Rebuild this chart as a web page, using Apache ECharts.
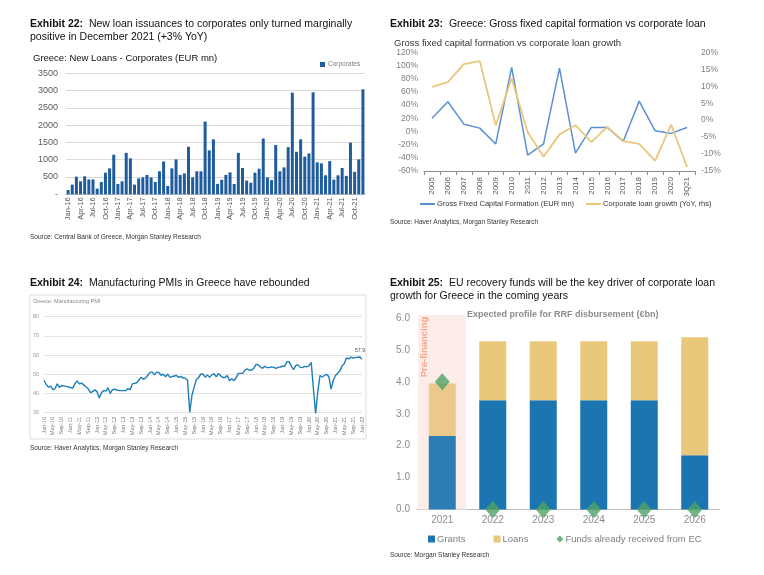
<!DOCTYPE html>
<html><head><meta charset="utf-8">
<script src="https://cdn.jsdelivr.net/npm/echarts@6/dist/echarts.min.js"></script>
<style>html,body{margin:0;padding:0;background:#fff}#c{width:764px;height:575px}</style>
</head><body><div id="c"></div>
<script>
const MON = ['Jan','Feb','Mar','Apr','May','Jun','Jul','Aug','Sep','Oct','Nov','Dec'];
function monthRange(y0, m0, y1, m1) {
  const out = [];
  for (let y = y0, m = m0; y < y1 || (y === y1 && m <= m1); ) {
    out.push(MON[m] + '-' + String(y).slice(2));
    m++; if (m > 11) { m = 0; y++; }
  }
  return out;
}
// Exhibit 22
const loanMonths = monthRange(2016, 0, 2021, 11);
const corporateLoans = [
  125, 280, 510, 375, 520, 430, 430, 165, 355, 625, 750, 1145,
  300, 375, 1200, 1040, 280, 460, 490, 560, 490, 355, 665, 950,
  240, 750, 1010, 560, 605, 1375, 490, 665, 665, 2105, 1270, 1590,
  300, 420, 560, 635, 300, 1200, 760, 395, 335, 625, 740, 1615,
  490, 410, 1425, 665, 780, 1365, 2940, 1230, 1590, 1090, 1180, 2950,
  925, 895, 550, 960, 425, 550, 760, 535, 1495, 650, 1010, 3035
];
// Exhibit 23
const gfcfYears = ['2005','2006','2007','2008','2009','2010','2011','2012','2013','2014','2015','2016','2017','2018','2019','2020','3Q21'];
const gfcfGrowth = [20, 45, 11, 5, -19, 97, -36, -19, 96, -33, 6, 6, -15, 46, 1, -3, 6];
const corpLoanGrowth = [9.8, 11.2, 16.5, 17.4, -1.5, 12.3, -3.5, -10.8, -4.2, -1.5, -6.5, -2.0, -6.2, -7.0, -12.0, -1.3, -13.8];
// Exhibit 24
const pmiMonths = monthRange(2010, 0, 2022, 0);
const pmiValues = [
  46.9, 44.7, 43.3, 43.8, 42.0, 42.6, 45.0, 43.2, 44.2, 44.0, 43.7, 43.5,
  43.0, 42.8, 45.0, 46.6, 45.0, 45.4, 44.5, 43.5, 42.5, 40.5, 41.0, 41.9,
  41.0, 37.7, 40.4, 41.5, 41.2, 43.0, 40.0, 42.0, 42.2, 41.8, 41.6, 41.5,
  41.5, 41.5, 42.6, 42.0, 45.0, 45.3, 45.6, 47.0, 48.5, 47.5, 48.0, 49.5,
  51.0, 51.3, 49.7, 51.1, 51.0, 49.4, 50.1, 48.7, 50.1, 48.4, 48.8, 49.1,
  49.4, 48.4, 48.9, 48.0, 48.0, 46.9, 30.2, 39.1, 43.3, 47.3, 48.1, 50.2,
  50.0, 48.5, 49.7, 48.4, 49.7, 50.4, 48.7, 50.4, 49.2, 48.3, 48.3, 49.3,
  46.6, 47.7, 46.7, 48.2, 50.5, 50.5, 50.5, 52.2, 52.8, 52.1, 52.2, 53.1,
  55.2, 55.0, 53.8, 53.1, 54.2, 53.5, 53.5, 53.9, 53.6, 53.1, 53.6, 53.8,
  54.2, 54.2, 56.6, 56.6, 54.2, 52.4, 54.6, 54.9, 53.6, 53.5, 54.1, 53.9,
  54.4, 56.2, 42.5, 29.5, 41.1, 49.4, 48.6, 49.4, 50.0, 48.7, 42.3, 46.9,
  49.4, 50.6, 51.8, 54.4, 55.6, 58.6, 58.0, 59.0, 58.4, 58.8, 58.8, 59.0,
  57.9
];
// Exhibit 25
const rrfYears = ['2021','2022','2023','2024','2025','2026'];
const rrfGrants = [2.3, 3.42, 3.42, 3.42, 3.42, 1.7];
const rrfLoans = [1.65, 1.85, 1.85, 1.85, 1.85, 3.7];
const fundsReceived = [4.0, 0, 0, 0, 0, 0];
const preFinancing = [6.1, null, null, null, null, null];

const FONT = 'Liberation Sans, Arial, sans-serif';
const chart = echarts.init(document.getElementById('c'));
function ttl(left, top, text, size) {
  return {
    left: left, top: top, padding: 0, text: text,
    textStyle: { fontSize: size, fontWeight: 'normal', color: '#111', lineHeight: 13, fontFamily: FONT,
      rich: { b: { fontWeight: 'bold', fontSize: size, color: '#111', lineHeight: 13, fontFamily: FONT } } }
  };
}
function plain(left, top, text, size, color, weight) {
  return { left: left, top: top, padding: 0, text: text,
    textStyle: { fontSize: size, fontWeight: weight || 'normal', color: color, fontFamily: FONT } };
}
// 2021 bars sit under the translucent pre-financing band: slightly muted tones
const grantsData = rrfGrants.map((v, i) => i === 0 ? { value: v, itemStyle: { color: '#2B7DB4' } } : v);
const loansData = rrfLoans.map((v, i) => i === 0 ? { value: v, itemStyle: { color: '#EAC98A' } } : v);
const option = {
  animation: false,
  backgroundColor: '#fff',
  textStyle: { fontFamily: FONT },
  title: [
    ttl(30, 18, '{b|Exhibit 22:}  New loan issuances to corporates only turned marginally\npositive in December 2021 (+3% YoY)', 10.5),
    plain(33, 53, 'Greece: New Loans - Corporates (EUR mn)', 9.5, '#111'),
    plain(30, 234, 'Source: Central Bank of Greece, Morgan Stanley Research', 6.5, '#333'),
    ttl(390, 18, '{b|Exhibit 23:}  Greece: Gross fixed capital formation vs corporate loan', 10.5),
    plain(394, 38, 'Gross fixed capital formation vs corporate loan growth', 9.5, '#333'),
    plain(390, 219, 'Source: Haver Analytics, Morgan Stanley Research', 6.5, '#333'),
    ttl(30, 277, '{b|Exhibit 24:}  Manufacturing PMIs in Greece have rebounded', 10.5),
    plain(33, 298, 'Greece: Manufacturing PMI', 5.5, '#888'),
    plain(30, 445, 'Source: Haver Analytics, Morgan Stanley Research', 6.5, '#333'),
    ttl(390, 277, '{b|Exhibit 25:}  EU recovery funds will be the key driver of corporate loan\ngrowth for Greece in the coming years', 10.5),
    plain(467, 310, 'Expected profile for RRF disbursement (\u20acbn)', 9, '#8c8c8c', 'bold'),
    plain(390, 552, 'Source: Morgan Stanley Research', 6.5, '#333')
  ],
  graphic: [
    { type: 'rect', shape: { x: 30, y: 295, width: 336, height: 144 }, style: { fill: 'none', stroke: '#dcdcdc', lineWidth: 1 }, z: 0 },
    { type: 'text', x: 424, y: 347, rotation: Math.PI / 2, z: 10,
      style: { text: 'Pre-financing', align: 'center', verticalAlign: 'middle', fill: '#F2A690', font: 'bold 9.5px ' + FONT } }
  ],
  legend: [
    { data: ['Corporates'], left: 320, top: 61, itemWidth: 5, itemHeight: 5, icon: 'rect', padding: 0, itemGap: 3,
      textStyle: { fontSize: 6.5, color: '#7f7f7f', padding: [0, 0, 0, -2] } },
    { data: ['Gross Fixed Capital Formation (EUR mn)', 'Corporate loan growth (YoY, rhs)'], left: 420, top: 200,
      itemWidth: 15, itemHeight: 2, icon: 'rect', itemGap: 12, padding: 0,
      textStyle: { fontSize: 7.5, color: '#333', padding: [0, 0, 0, -3] } },
    { data: ['Grants', 'Loans', { name: 'Funds already received from EC', icon: 'diamond' }], left: 428, top: 534,
      itemWidth: 7, itemHeight: 7, icon: 'rect', itemGap: 28, padding: 0,
      textStyle: { fontSize: 9.5, color: '#7f7f7f', padding: [0, 0, 0, -3] } }
  ],
  grid: [
    { left: 66, right: 399, top: 73.3, bottom: 380.7 },
    { left: 424, right: 69, top: 52.3, bottom: 404 },
    { left: 44, right: 402, top: 316.7, bottom: 162.3 },
    { left: 417, right: 44, top: 318, bottom: 65.5 }
  ],
  xAxis: [
    { type: 'category', gridIndex: 0, data: loanMonths,
      axisLine: { lineStyle: { color: '#bfbfbf' } }, axisTick: { show: false },
      axisLabel: { interval: 2, rotate: 90, fontSize: 7.5, color: '#595959', margin: 3 } },
    { type: 'category', gridIndex: 1, data: gfcfYears,
      axisLine: { onZero: false, lineStyle: { color: '#8c8c8c' } }, axisTick: { show: true, length: 4, lineStyle: { color: '#8c8c8c' } },
      axisLabel: { interval: 0, rotate: 90, fontSize: 8, color: '#595959', margin: 6 } },
    { type: 'category', gridIndex: 2, data: pmiMonths, boundaryGap: false,
      axisLine: { show: false }, axisTick: { show: false },
      axisLabel: { interval: 3, rotate: 90, fontSize: 5.5, color: '#777', margin: 4 } },
    { type: 'category', gridIndex: 3, data: rrfYears,
      axisLine: { lineStyle: { color: '#bfbfbf' } }, axisTick: { show: false },
      axisLabel: { fontSize: 10, color: '#8c8c8c', margin: 6 } },
    { type: 'category', gridIndex: 3, data: rrfYears, show: false }
  ],
  yAxis: [
    { type: 'value', gridIndex: 0, min: 0, max: 3500, interval: 500,
      axisLine: { show: false }, axisTick: { show: false },
      splitLine: { lineStyle: { color: '#d9d9d9' } },
      axisLabel: { fontSize: 9, color: '#595959', margin: 8, formatter: v => v === 0 ? '-' : String(v) } },
    { type: 'value', gridIndex: 1, min: -60, max: 120, interval: 20,
      axisLine: { show: false }, axisTick: { show: false }, splitLine: { show: false },
      axisLabel: { fontSize: 8.5, color: '#7f7f7f', margin: 6, formatter: '{value}%' } },
    { type: 'value', gridIndex: 1, position: 'right', min: -15, max: 20, interval: 5,
      axisLine: { show: false }, axisTick: { show: false }, splitLine: { show: false },
      axisLabel: { fontSize: 8.5, color: '#7f7f7f', margin: 6, formatter: '{value}%' } },
    { type: 'value', gridIndex: 2, min: 30, max: 80, interval: 10,
      axisLine: { show: false }, axisTick: { show: false },
      splitLine: { lineStyle: { color: '#e3e3e3' } },
      axisLabel: { fontSize: 5.5, color: '#999', margin: 5 } },
    { type: 'value', gridIndex: 3, min: 0, max: 6, interval: 1,
      axisLine: { show: false }, axisTick: { show: false }, splitLine: { show: false },
      axisLabel: { fontSize: 10, color: '#8c8c8c', margin: 7, formatter: v => v.toFixed(1) } }
  ],
  series: [
    { name: 'Corporates', type: 'bar', xAxisIndex: 0, yAxisIndex: 0, data: corporateLoans,
      barWidth: '72%', itemStyle: { color: '#1F5C9E' } },
    { name: 'Gross Fixed Capital Formation (EUR mn)', type: 'line', xAxisIndex: 1, yAxisIndex: 1, data: gfcfGrowth,
      symbol: 'none', lineStyle: { color: '#5B8FD3', width: 1.5 }, itemStyle: { color: '#5B8FD3' } },
    { name: 'Corporate loan growth (YoY, rhs)', type: 'line', xAxisIndex: 1, yAxisIndex: 2, data: corpLoanGrowth,
      symbol: 'none', lineStyle: { color: '#EBC77C', width: 1.8 }, itemStyle: { color: '#EBC77C' } },
    { name: 'PMI', type: 'line', xAxisIndex: 2, yAxisIndex: 3, data: pmiValues,
      symbol: 'none', lineStyle: { color: '#1E7EB8', width: 1.4 }, itemStyle: { color: '#1E7EB8' },
      markPoint: { symbol: 'circle', symbolSize: 0, silent: true,
        label: { show: true, fontSize: 5.5, color: '#555', formatter: p => p.value.toFixed(1) },
        data: [
          { type: 'min', label: { position: 'right', offset: [2, -5] } },
          { coord: [pmiValues.length - 1, pmiValues[pmiValues.length - 1]], value: pmiValues[pmiValues.length - 1],
            label: { position: 'top', offset: [-2, -1] } }
        ] } },
    { name: 'prefin', type: 'bar', xAxisIndex: 4, yAxisIndex: 4, data: preFinancing, barWidth: '95%',
      clip: false, silent: true, z: 1, itemStyle: { color: '#FCEDE9' } },
    { name: 'Grants', type: 'bar', stack: 'rrf', xAxisIndex: 3, yAxisIndex: 4, data: grantsData,
      barWidth: 27, z: 3, itemStyle: { color: '#1B75B1' } },
    { name: 'Loans', type: 'bar', stack: 'rrf', xAxisIndex: 3, yAxisIndex: 4, data: loansData,
      barWidth: 27, z: 3, itemStyle: { color: '#E9C87B' } },
    { name: 'Funds already received from EC', type: 'scatter', xAxisIndex: 3, yAxisIndex: 4, data: fundsReceived,
      symbol: 'diamond', symbolSize: [15, 17], clip: false, z: 5, itemStyle: { color: '#4FA265' } }
  ]
};
chart.setOption(option);
</script>
</body></html>
